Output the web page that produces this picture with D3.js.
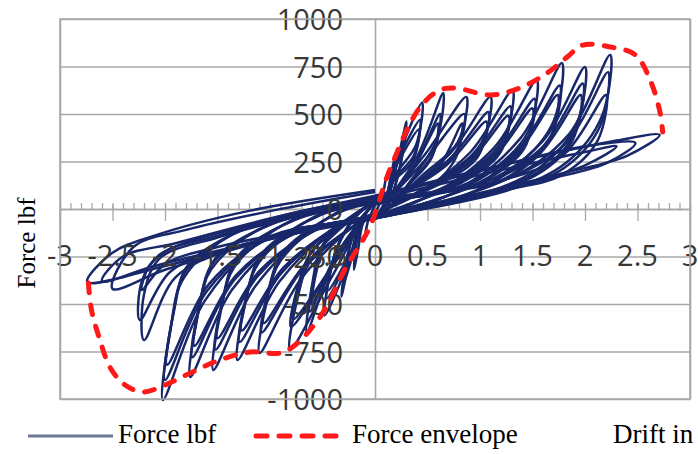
<!DOCTYPE html>
<html>
<head>
<meta charset="utf-8">
<script src="https://cdn.jsdelivr.net/npm/d3@7/dist/d3.min.js"></script>
<style>
  body { margin: 0; background: #fff; }
  svg { display: block; }
</style>
</head>
<body>
<div id="chart"></div>
<script>
// hysteresis cycles, [drift in, force lbf]
var loops = [
  [[0,20],[0.05,40],[0.10,150],[0.07,70],[0,-20],[-0.05,-40],[-0.10,-160],[-0.07,-70],[0,20]],
  [[0,30],[0.1,60],[0.16,200],[0.2,300],[0.17,150],[0.08,20],[0,-40],[-0.1,-60],[-0.16,-210],[-0.2,-320],[-0.17,-160],[-0.08,-20],[0,30]],
  [[0,30],[0.12,70],[0.22,270],[0.3,460],[0.26,280],[0.15,60],[0,-40],[-0.13,-70],[-0.24,-270],[-0.32,-460],[-0.28,-300],[-0.18,-90],[0,30]],
  [[0,35],[0.11,60],[0.2,220],[0.28,380],[0.24,230],[0.14,50],[0,-35],[-0.12,-60],[-0.2,-220],[-0.3,-390],[-0.26,-240],[-0.16,-70],[0,35]],
  [[0,40],[0.08,40],[0.2,252],[0.45,560],[0.39,336],[0.17,157],[0.12,5],[0,-40],[-0.08,-45],[-0.23,-252],[-0.48,-560],[-0.43,-347],[-0.33,-168],[-0.12,-5],[0,40]],
  [[0,35],[0.08,38],[0.18,212],[0.43,470],[0.37,282],[0.15,132],[0.12,3],[0,-35],[-0.08,-42],[-0.21,-212],[-0.46,-470],[-0.41,-291],[-0.31,-141],[-0.12,-3],[0,35]],
  [[0,30],[0.08,35],[0.17,189],[0.42,420],[0.36,252],[0.14,118],[0.12,0],[0,-30],[-0.08,-40],[-0.2,-194],[-0.45,-430],[-0.4,-267],[-0.3,-129],[-0.12,0],[0,30]],
  [[0,40],[0.08,40],[0.4,275],[0.65,610],[0.59,366],[0.37,171],[0.12,5],[0,-40],[-0.08,-45],[-0.4,-293],[-0.65,-650],[-0.6,-403],[-0.5,-195],[-0.12,-5],[0,40]],
  [[0,35],[0.08,38],[0.37,225],[0.62,500],[0.56,300],[0.34,140],[0.12,3],[0,-35],[-0.08,-42],[-0.37,-243],[-0.62,-540],[-0.57,-335],[-0.47,-162],[-0.12,-3],[0,35]],
  [[0,30],[0.08,35],[0.35,203],[0.6,450],[0.54,270],[0.32,126],[0.12,0],[0,-30],[-0.08,-40],[-0.35,-225],[-0.6,-500],[-0.55,-310],[-0.45,-150],[-0.12,0],[0,30]],
  [[0,40],[0.08,40],[0.47,283],[0.87,590],[0.79,354],[0.45,177],[0.12,5],[0,-40],[-0.08,-45],[-0.41,-356],[-0.81,-742],[-0.74,-475],[-0.61,-267],[-0.12,-5],[0,40]],
  [[0,35],[0.08,40],[0.45,240],[0.85,500],[0.77,300],[0.43,150],[0.12,5],[0,-35],[-0.08,-45],[-0.4,-298],[-0.8,-620],[-0.73,-397],[-0.6,-223],[-0.12,-5],[0,35]],
  [[0,30],[0.08,35],[0.58,203],[0.83,450],[0.77,270],[0.55,126],[0.12,0],[0,-30],[-0.08,-40],[-0.38,-278],[-0.78,-580],[-0.71,-371],[-0.58,-209],[-0.12,0],[0,30]],
  [[0,40],[0.1,40],[0.7,283],[1.1,590],[1.02,354],[0.68,177],[0.15,12],[0,-40],[-0.1,-51],[-0.7,-364],[-1.1,-758],[-1.03,-485],[-0.9,-273],[-0.35,-15],[0,40]],
  [[0,35],[0.08,38],[0.68,245],[1.08,510],[1.0,306],[0.66,153],[0.13,10],[0,-35],[-0.08,-49],[-0.68,-312],[-1.08,-650],[-1.01,-416],[-0.88,-234],[-0.33,-13],[0,35]],
  [[0,30],[0.08,36],[0.66,221],[1.06,460],[0.98,276],[0.64,138],[0.12,9],[0,-30],[-0.08,-47],[-0.66,-288],[-1.06,-600],[-0.99,-384],[-0.86,-216],[-0.31,-11],[0,30]],
  [[0,45],[0.31,61],[0.91,300],[1.31,626],[1.23,376],[0.89,188],[0.36,29],[0,-45],[-0.31,-74],[-0.91,-382],[-1.31,-795],[-1.24,-509],[-1.11,-286],[-0.56,-36],[0,45]],
  [[0,40],[0.29,59],[0.89,259],[1.29,540],[1.21,324],[0.87,162],[0.34,27],[0,-40],[-0.29,-72],[-0.89,-336],[-1.29,-700],[-1.22,-448],[-1.09,-252],[-0.54,-34],[0,40]],
  [[0,35],[0.27,57],[0.87,235],[1.27,490],[1.19,294],[0.85,147],[0.32,26],[0,-35],[-0.27,-70],[-0.87,-307],[-1.27,-640],[-1.2,-410],[-1.07,-230],[-0.52,-32],[0,35]],
  [[0,50],[0.54,84],[1.14,326],[1.54,680],[1.46,408],[1.12,204],[0.59,47],[0,-45],[-0.54,-99],[-1.14,-407],[-1.54,-847],[-1.47,-542],[-1.34,-305],[-0.79,-59],[0,50]],
  [[0,45],[0.52,82],[1.12,278],[1.52,580],[1.44,348],[1.1,174],[0.57,46],[0,-40],[-0.52,-97],[-1.12,-355],[-1.52,-740],[-1.45,-474],[-1.32,-266],[-0.77,-57],[0,45]],
  [[0,40],[0.5,80],[1.1,254],[1.5,530],[1.42,318],[1.08,159],[0.55,44],[0,-35],[-0.5,-95],[-1.1,-326],[-1.5,-680],[-1.43,-435],[-1.3,-245],[-0.75,-55],[0,40]],
  [[0,55],[0.78,108],[1.38,369],[1.78,768],[1.7,461],[1.36,230],[0.83,66],[0,-50],[-0.76,-124],[-1.36,-424],[-1.76,-884],[-1.69,-566],[-1.56,-318],[-1.01,-81],[0,55]],
  [[0,50],[0.76,106],[1.36,312],[1.76,650],[1.68,390],[1.34,195],[0.81,65],[0,-45],[-0.74,-121],[-1.34,-374],[-1.74,-780],[-1.67,-499],[-1.54,-281],[-0.99,-79],[0,50]],
  [[0,45],[0.74,104],[1.34,288],[1.74,600],[1.66,360],[1.32,180],[0.79,63],[0,-40],[-0.72,-119],[-1.32,-346],[-1.72,-720],[-1.65,-461],[-1.52,-259],[-0.97,-77],[0,45]],
  [[0,60],[1.0,130],[1.6,359],[2.0,747],[1.92,448],[1.58,224],[1.05,84],[0,-50],[-1.02,-152],[-1.62,-482],[-2.02,-1005],[-1.95,-643],[-1.82,-362],[-1.27,-107],[0,60]],
  [[0,55],[0.98,128],[1.58,317],[1.98,660],[1.9,396],[1.56,198],[1.03,82],[0,-45],[-1.0,-150],[-1.6,-432],[-2.0,-900],[-1.93,-576],[-1.8,-324],[-1.25,-105],[0,55]],
  [[0,50],[0.96,126],[1.56,288],[1.96,600],[1.88,360],[1.54,180],[1.01,81],[0,-40],[-0.98,-148],[-1.58,-394],[-1.98,-820],[-1.91,-525],[-1.78,-295],[-1.23,-103],[0,50]],
  [[0,60],[1.24,154],[1.84,389],[2.24,811],[2.16,487],[1.82,243],[1.29,103],[0,-50],[-1.3,-200],[-1.9,-360],[-2.2,-690],[-2.2,-450],[-2.05,-260],[-1.5,-150],[0,60]],
  [[0,60],[1.22,152],[1.82,346],[2.22,720],[2.14,432],[1.8,216],[1.27,102],[0,-45],[-1.4,-210],[-1.95,-330],[-2.24,-584],[-2.22,-380],[-2.05,-240],[-1.5,-140],[0,60]],
  [[0,55],[1.2,150],[1.8,288],[2.2,600],[2.12,360],[1.78,180],[1.25,100],[0,-40],[-1.5,-200],[-2.0,-290],[-2.22,-426],[-2.15,-300],[-1.95,-210],[-1.3,-100],[0,55]],
  [[0,60],[1.0,200],[2.0,330],[2.48,347],[2.2,240],[1.5,140],[0.5,20],[0,-40],[-1.0,-150],[-2.0,-300],[-2.74,-384],[-2.5,-230],[-2.1,-140],[-1.2,-10],[0,100]],
  [[0,70],[1.2,230],[2.3,360],[2.71,390],[2.4,280],[1.8,190],[0.8,60],[0,-30],[-1.0,-160],[-2.0,-320],[-2.5,-420],[-2.3,-200],[-1.8,-110],[-0.9,0],[0,90]],
  [[0,50],[1.0,180],[2.0,300],[2.3,330],[2.0,230],[1.3,110],[0.5,10],[0,-40],[-1.1,-170],[-2.1,-300],[-2.6,-380],[-2.4,-250],[-1.9,-180],[-1.0,-50],[0,70]]
];

// force envelope
var envelope = [[-2.73,-389],[-2.70,-532],[-2.62,-689],[-2.52,-837],[-2.38,-926],[-2.21,-963],[-2.0,-926],
  [-1.76,-863],[-1.48,-795],[-1.19,-753],[-0.90,-758],[-0.76,-716],[-0.62,-637],[-0.48,-532],[-0.29,-321],
  [-0.05,-95],[0.14,205],[0.43,537],[0.62,626],[0.76,637],[1.10,600],[1.38,637],[1.64,716],[1.83,800],
  [1.98,863],[2.24,853],[2.48,811],[2.62,679],[2.71,521],[2.74,405]];

var xTicks = [-3,-2.5,-2,-1.5,-1,-0.5,0,0.5,1,1.5,2,2.5,3];
var yTicks = [-1000,-750,-500,-250,0,250,500,750,1000];
var seriesNames = ["Force lbf","Force envelope"];
var xTitle = "Drift in";
var yTitle = "Force lbf";

var W = 698, H = 454;
var svg = d3.select("#chart").append("svg").attr("width", W).attr("height", H);

var x = d3.scaleLinear().domain([-3, 3]).range([60, 690]);
var y = d3.scaleLinear().domain([-1000, 1000]).range([399, 19]);

var gridColor = "#a8a8a8";
var labelFont = "'Open Sans', sans-serif";
var serif = "'Liberation Serif', 'Times New Roman', serif";

// horizontal gridlines
svg.append("g")
  .attr("transform", "translate(60,0)")
  .call(d3.axisLeft(y).tickValues(yTicks).tickSize(-630).tickFormat(""))
  .call(function(g) { g.select(".domain").remove(); })
  .selectAll(".tick line").attr("stroke", gridColor).attr("stroke-width", 1.6);

// vertical gridlines
svg.append("g")
  .attr("transform", "translate(0,399)")
  .call(d3.axisBottom(x).tickValues([-3, 0, 3]).tickSize(-380).tickFormat(""))
  .call(function(g) { g.select(".domain").remove(); })
  .selectAll(".tick line").attr("stroke", gridColor).attr("stroke-width", 1.6);

// minor ticks on the x axis
svg.append("g")
  .attr("transform", "translate(0," + y(0) + ")")
  .call(d3.axisBottom(x).tickValues(x.ticks(60)).tickSize(-6).tickSizeOuter(0).tickFormat(""))
  .call(function(g) { g.select(".domain").remove(); })
  .selectAll(".tick line").attr("stroke", gridColor).attr("stroke-width", 1.3);

// major ticks + axis line
var gx = svg.append("g")
  .attr("transform", "translate(0," + y(0) + ")")
  .call(d3.axisBottom(x).tickValues(xTicks).tickSize(12).tickSizeOuter(0).tickFormat(""));
gx.select(".domain").attr("stroke", gridColor).attr("stroke-width", 1.6);
gx.selectAll(".tick line").attr("y1", -4).attr("stroke", gridColor).attr("stroke-width", 1.3);

// hysteresis loops
var line = d3.line()
  .x(function(d) { return x(d[0]); })
  .y(function(d) { return y(d[1]); })
  .curve(d3.curveCatmullRom.alpha(0.5));

svg.append("g")
  .selectAll("path")
  .data(loops)
  .enter()
  .append("path")
  .attr("d", line)
  .attr("fill", "none")
  .attr("stroke", "#18286a")
  .attr("stroke-width", 2.5)
  .attr("stroke-linejoin", "round");

// tick labels
svg.append("g")
  .selectAll("text")
  .data(xTicks)
  .enter()
  .append("text")
  .attr("x", function(d) { return x(d); })
  .attr("y", 256)
  .attr("dy", "0.35em")
  .attr("text-anchor", "middle")
  .style("font-family", labelFont)
  .style("font-size", "29px")
  .attr("fill", "#383838")
  .text(function(d) { return d; });

svg.append("g")
  .selectAll("text")
  .data(yTicks)
  .enter()
  .append("text")
  .attr("x", 343)
  .attr("y", function(d) { return y(d) + 1; })
  .attr("dy", "0.35em")
  .attr("text-anchor", "end")
  .style("font-family", labelFont)
  .style("font-size", "29px")
  .attr("fill", "#383838")
  .text(function(d) { return d; });

// envelope
svg.append("path")
  .datum(envelope)
  .attr("d", line)
  .attr("fill", "none")
  .attr("stroke", "#ff1a1a")
  .attr("stroke-width", 5)
  .attr("stroke-linecap", "round")
  .attr("stroke-dasharray", "10,12");

// plot border
svg.append("rect")
  .attr("x", 60).attr("y", 19).attr("width", 630).attr("height", 380)
  .attr("fill", "none").attr("stroke", gridColor).attr("stroke-width", 1.6);

// y title
svg.append("text")
  .attr("transform", "translate(35,243) rotate(-90)")
  .attr("text-anchor", "middle")
  .style("font-family", serif)
  .style("font-size", "25px")
  .text(yTitle);

// legend
var lg = svg.append("g");
lg.append("line").attr("x1", 28).attr("x2", 113).attr("y1", 436).attr("y2", 436)
  .attr("stroke", "#6e7a95").attr("stroke-width", 3);
lg.append("text").attr("x", 118).attr("y", 443)
  .style("font-family", serif).style("font-size", "27px").text(seriesNames[0]);
lg.append("line").attr("x1", 256).attr("x2", 340).attr("y1", 436).attr("y2", 436)
  .attr("stroke", "#ff1a1a").attr("stroke-width", 5).attr("stroke-linecap", "round")
  .attr("stroke-dasharray", "11,12");
lg.append("text").attr("x", 352).attr("y", 443)
  .style("font-family", serif).style("font-size", "27px").text(seriesNames[1]);
lg.append("text").attr("x", 613).attr("y", 443)
  .style("font-family", serif).style("font-size", "27px").text(xTitle);
</script>
</body>
</html>
